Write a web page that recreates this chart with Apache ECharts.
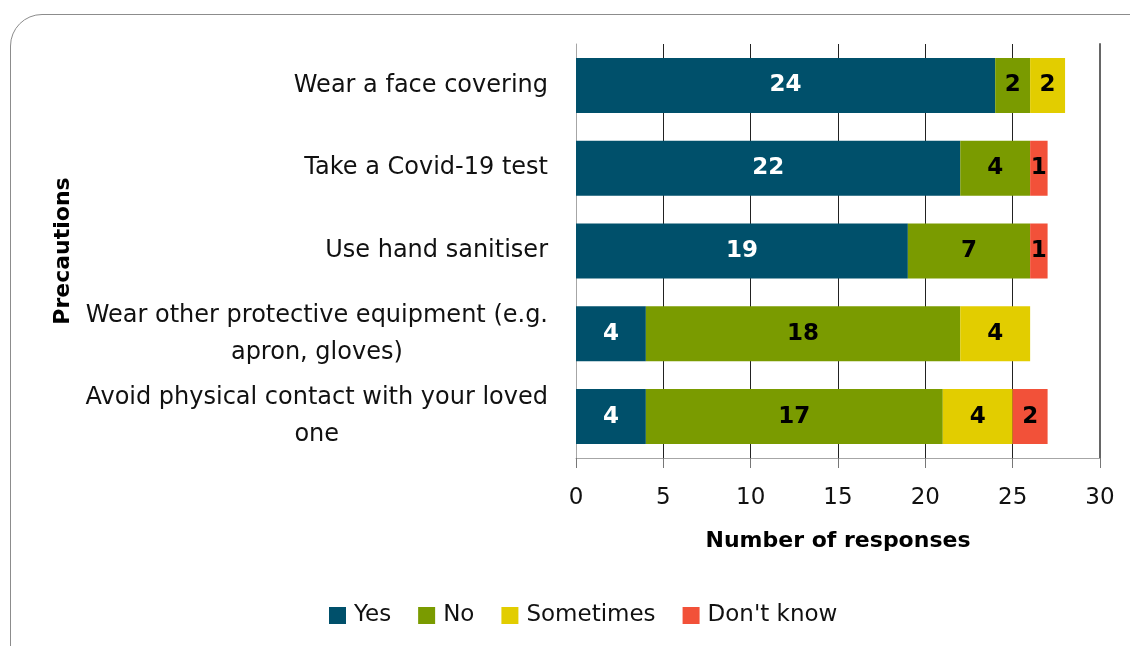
<!DOCTYPE html>
<html>
<head>
<meta charset="utf-8">
<script src="https://cdn.jsdelivr.net/npm/echarts@6/dist/echarts.min.js"></script>
<style>
html,body{margin:0;padding:0;background:#fff;overflow:hidden;}
#frame{position:absolute;left:10px;top:14px;width:1200px;height:700px;border:1.5px solid #8c8c8c;border-radius:32px;box-sizing:border-box;}
#chart{position:absolute;left:0;top:0;width:1130px;height:646px;}
</style>
</head>
<body>
<div id="frame"></div>
<div id="chart"></div>
<script>
const categories = [
  'Wear a face covering',
  'Take a Covid-19 test',
  'Use hand sanitiser',
  'Wear other protective equipment (e.g.\napron, gloves)',
  'Avoid physical contact with your loved\none'
];
const yesValues = [24, 22, 19, 4, 4];
const noValues = [2, 4, 7, 18, 17];
const sometimesValues = [2, null, null, 4, 4];
const dontKnowValues = [null, 1, 1, null, 2];
const xTicks = [0, 5, 10, 15, 20, 25, 30];

const FONT = '"DejaVu Sans", "Noto Sans", sans-serif';
const chart = echarts.init(document.getElementById('chart'));

function mkSeries(name, data, color, labelColor) {
  return {
    name: name, type: 'bar', stack: 'total', data: data, barWidth: 55,
    itemStyle: { color: color },
    label: {
      show: true, position: 'inside', color: labelColor,
      fontFamily: FONT, fontWeight: 'bold', fontSize: 23,
      formatter: p => (p.value ? String(p.value) : '')
    }
  };
}

chart.setOption({
  animation: false,
  textStyle: { fontFamily: FONT },
  grid: { left: 576, right: 30, top: 44, bottom: 188, containLabel: false },
  legend: {
    left: 324, top: 599, itemWidth: 17, itemHeight: 17, itemGap: 27,
    icon: 'rect',
    textStyle: { fontFamily: FONT, fontSize: 23, color: '#111', padding: [0, 0, 0, 3] },
    data: ['Yes', 'No', 'Sometimes', "Don't know"]
  },
  xAxis: {
    type: 'value', min: xTicks[0], max: xTicks[xTicks.length - 1], interval: 5,
    axisLine: { show: true, lineStyle: { color: '#a6a6a6', width: 1 } },
    axisTick: { show: true, length: 10, lineStyle: { color: '#777' } },
    axisLabel: { margin: 29, fontSize: 23, color: '#111', fontFamily: FONT },
    splitLine: { show: true, lineStyle: { color: '#222', width: 1 } },
    name: 'Number of responses', nameLocation: 'middle', nameGap: 72,
    nameTextStyle: { fontSize: 22, fontWeight: 'bold', color: '#000', fontFamily: FONT }
  },
  yAxis: [{
    type: 'category', inverse: true, data: categories,
    axisLine: { show: true, lineStyle: { color: '#a6a6a6' } },
    axisTick: { show: false },
    axisLabel: {
      margin: 28, fontSize: 24, color: '#111', fontFamily: FONT, lineHeight: 37,
      formatter: v => v.split('\n').map(s => '{c|' + s + '}').join('\n'),
      rich: { c: { align: 'center', fontSize: 24, lineHeight: 37, color: '#111', fontFamily: FONT } }
    },
    name: 'Precautions', nameLocation: 'middle', nameGap: 502, nameRotate: 90,
    nameTextStyle: { fontSize: 22, fontWeight: 'bold', color: '#000', fontFamily: FONT }
  }, {
    type: 'category', inverse: true, data: categories, position: 'right',
    axisLine: { show: true, lineStyle: { color: '#666', width: 2 } },
    axisTick: { show: false }, axisLabel: { show: false }
  }],
  series: [
    mkSeries('Yes', yesValues, '#00506b', '#fff'),
    mkSeries('No', noValues, '#7a9b00', '#000'),
    mkSeries('Sometimes', sometimesValues, '#e2cd00', '#000'),
    mkSeries("Don't know", dontKnowValues, '#f25139', '#000')
  ]
});
</script>
</body>
</html>
